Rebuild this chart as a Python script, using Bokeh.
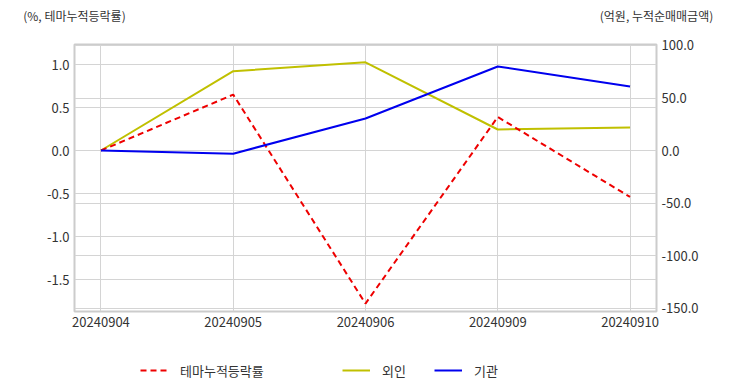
from bokeh.plotting import figure
from bokeh.layouts import column
from bokeh.models import (Range1d, LinearAxis, FixedTicker, NumeralTickFormatter, Grid,
                          Legend, LegendItem, ColumnDataSource)
from bokeh.embed import file_html
from bokeh.resources import INLINE

dates = ["20240904", "20240905", "20240906", "20240909", "20240910"]
theme_pct = [0.0, 0.65, -1.78, 0.39, -0.54]
foreign = [0.0, 75.5, 84.0, 20.0, 22.0]
institution = [0.0, -3.0, 30.5, 80.0, 61.0]

left_ticks = [-1.5, -1.0, -0.5, 0.0, 0.5, 1.0]
right_ticks = [-150, -100, -50, 0, 50, 100]
left_title = "(%, 테마누적등락률)"
right_title = "(억원, 누적순매매금액)"
series_names = ["테마누적등락률", "외인", "기관"]

FONT = "Noto Sans CJK KR"
TXT = "#333333"
GRID = "#d4d4d4"
C_THEME, C_FOR, C_INST = "#ee0000", "#c0c000", "#0000ee"
DASH = "6 4"

W = 732
MAIN_H, FOOT_H = 336, 56
FL, FR, FT, FB = 74, 656, 44, 311   # frame edges in pixels

xs = list(range(len(dates)))
src = ColumnDataSource(dict(x=xs, theme=theme_pct, foreign=foreign, inst=institution))

p = figure(width=W, height=MAIN_H, output_backend="svg", toolbar_location=None, title=None,
           x_range=Range1d(-0.2, len(dates) - 0.8), y_range=Range1d(-1.872, 1.233),
           min_border_left=FL, min_border_right=W - FR, min_border_top=FT,
           min_border_bottom=MAIN_H - FB)
p.extra_y_ranges = {"right": Range1d(-153.3, 100.95)}
p.extra_x_ranges = {"cap": Range1d(FL, FR)}

p.outline_line_color = "#cccccc"
p.outline_line_width = 2

xa = p.xaxis[0]
xa.ticker = FixedTicker(ticks=xs)
xa.major_label_overrides = {i: d for i, d in enumerate(dates)}
ya = p.yaxis[0]
ya.ticker = FixedTicker(ticks=left_ticks)
ya.formatter = NumeralTickFormatter(format="0.0")
ra = LinearAxis(y_range_name="right", ticker=FixedTicker(ticks=right_ticks),
                formatter=NumeralTickFormatter(format="0.0"))
p.add_layout(ra, "right")

# unit captions above the frame, as the two labels of a bare top axis
cap_pos = [FL, FR]
cap = LinearAxis(x_range_name="cap", ticker=FixedTicker(ticks=cap_pos),
                 major_label_overrides={cap_pos[0]: left_title, cap_pos[1]: right_title})
p.add_layout(cap, "above")

for ax in [xa, ya, ra, cap]:
    ax.axis_line_color = None
    ax.major_tick_line_color = None
    ax.minor_tick_line_color = None
    ax.major_tick_out = 0
    ax.major_tick_in = 0
    ax.minor_tick_out = 0
    ax.minor_tick_in = 0
    ax.major_label_text_font = FONT
    ax.major_label_text_font_size = "13px"
    ax.major_label_text_color = TXT
    ax.major_label_standoff = 5
cap.major_label_text_font_size = "12px"
cap.major_label_standoff = 21

p.xgrid.grid_line_color = GRID
p.ygrid.grid_line_color = GRID
p.add_layout(Grid(dimension=1, ticker=ra.ticker, y_range_name="right", grid_line_color=GRID))

p.line("x", "foreign", source=src, y_range_name="right", line_color=C_FOR, line_width=2)
p.line("x", "theme", source=src, line_color=C_THEME, line_width=2, line_dash=DASH)
p.line("x", "inst", source=src, y_range_name="right", line_color=C_INST, line_width=2)

# ---------- key strip under the chart ----------
# the same series are attached here only so that the key can show their swatches;
# the strip's ranges lie away from the data, so nothing of them is drawn
foot = figure(width=W, height=FOOT_H, output_backend="svg", toolbar_location=None, title=None,
              x_range=Range1d(-20, -19), y_range=Range1d(-20, -19),
              min_border_left=FL, min_border_right=W - FR, min_border_top=0, min_border_bottom=0,
              x_axis_location=None, y_axis_location=None)
foot.outline_line_color = None
foot.grid.visible = False
k_theme = foot.line("x", "theme", source=src, line_color=C_THEME, line_width=2, line_dash=DASH)
k_for = foot.line("x", "foreign", source=src, line_color=C_FOR, line_width=2)
k_inst = foot.line("x", "inst", source=src, line_color=C_INST, line_width=2)


def key(items, loc, spacing=0):
    return Legend(items=items, location=loc, orientation="horizontal", padding=0, margin=0,
                  spacing=spacing, border_line_color=None, background_fill_alpha=0,
                  glyph_width=28, glyph_height=20, label_height=20, label_standoff=12,
                  label_text_font=FONT, label_text_font_size="13px", label_text_color=TXT)


foot.add_layout(key([LegendItem(label=series_names[0], renderers=[k_theme])], (66, 12)), "center")
foot.add_layout(key([LegendItem(label=series_names[1], renderers=[k_for]),
                     LegendItem(label=series_names[2], renderers=[k_inst])], (268, 12), spacing=28),
                "center")

layout = column(p, foot, spacing=0)
open("out.html", "w").write(file_html(layout, INLINE))
